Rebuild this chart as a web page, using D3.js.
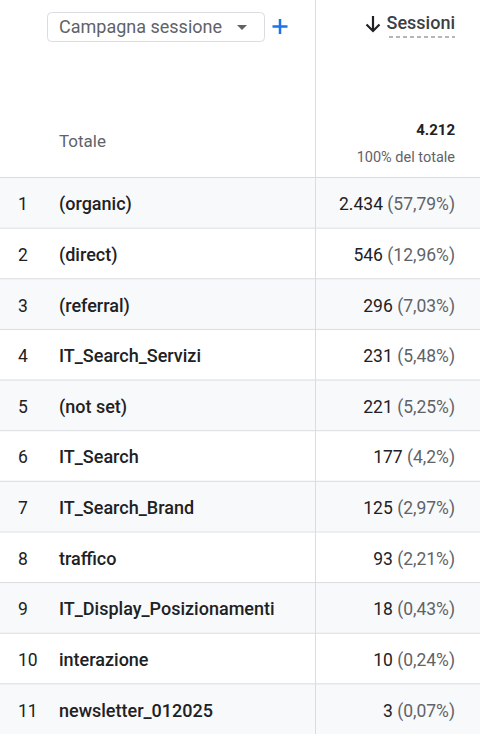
<!DOCTYPE html><html><head><meta charset="utf-8"><script src="https://cdn.jsdelivr.net/npm/d3@7"></script>
<style>body{margin:0;background:#fff}svg{display:block;font-family:Roboto,sans-serif}</style></head><body><script>
const campaigns=["(organic)","(direct)","(referral)","IT_Search_Servizi","(not set)","IT_Search","IT_Search_Brand","traffico","IT_Display_Posizionamenti","interazione","newsletter_012025"];
const sessions=[2434,546,296,231,221,177,125,93,18,10,3];
const shares=["57,79%","12,96%","7,03%","5,48%","5,25%","4,2%","2,97%","2,21%","0,43%","0,24%","0,07%"];
const total="4.212";
const W=480,H=734;
const svg=d3.select("body").append("svg").attr("width",W).attr("height",H);
const y=d3.scaleBand().domain(d3.range(campaigns.length)).range([177,734]);
const fmt=d3.formatLocale({decimal:",",thousands:".",grouping:[3]}).format(",");
svg.append("rect").attr("x",47.5).attr("y",12.5).attr("width",217).attr("height",29).attr("rx",4).attr("fill","#fff").attr("stroke","#dadce0");
svg.append("text").attr("x",59).attr("y",33).attr("font-size",18).attr("fill","#5f6368").text("Campagna sessione");
svg.append("path").attr("d","M237,25 l10,0 l-5,5z").attr("fill","#5f6368");
svg.append("path").attr("d","M280,19 v15 M272.5,26.5 h15").attr("stroke","#1a73e8").attr("stroke-width",2.5);
svg.append("path").attr("d","M373,16 v15 M366.5,24.5 l6.5,6.5 l6.5,-6.5").attr("stroke","#202124").attr("stroke-width",2.2).attr("fill","none");
svg.append("text").attr("x",455).attr("y",29).attr("text-anchor","end").attr("font-size",18).attr("font-weight",500).attr("fill","#3c4043").text("Sessioni");
svg.append("line").attr("x1",389).attr("x2",455).attr("y1",37).attr("y2",37).attr("stroke","#9aa0a6").attr("stroke-width",1.5).attr("stroke-dasharray","4,3");
svg.append("text").attr("x",59).attr("y",147).attr("font-size",17).attr("fill","#5f6368").text("Totale");
svg.append("text").attr("x",455).attr("y",135).attr("text-anchor","end").attr("font-size",15).attr("font-weight",700).attr("fill","#202124").text(total);
svg.append("text").attr("x",455).attr("y",162).attr("text-anchor","end").attr("font-size",14.5).attr("fill","#5f6368").text("100% del totale");
const rows=svg.selectAll("g.r").data(campaigns).join("g").attr("transform",(d,i)=>`translate(0,${y(i)})`);
rows.append("rect").attr("width",W).attr("height",y.bandwidth()).attr("fill",(d,i)=>i%2?"#fff":"#f8f9fa");
rows.append("line").attr("x1",0).attr("x2",W).attr("y1",0.5).attr("y2",0.5).attr("stroke","#dadce0");
const cy=y.bandwidth()/2+8;
rows.append("text").attr("x",18).attr("y",cy).attr("font-size",17.5).attr("fill","#202124").text((d,i)=>i+1);
rows.append("text").attr("x",59).attr("y",cy).attr("font-size",18).attr("font-weight",500).attr("fill","#202124").text(d=>d);
rows.append("text").attr("x",455).attr("y",cy).attr("text-anchor","end").attr("font-size",17.5).attr("fill","#202124")
 .each(function(d,i){const t=d3.select(this);t.append("tspan").text(fmt(sessions[i])+" ");t.append("tspan").attr("fill","#5f6368").text("("+shares[i]+")");});
svg.append("line").attr("x1",315.5).attr("x2",315.5).attr("y1",0).attr("y2",H).attr("stroke","#dadce0");
</script></body></html>
